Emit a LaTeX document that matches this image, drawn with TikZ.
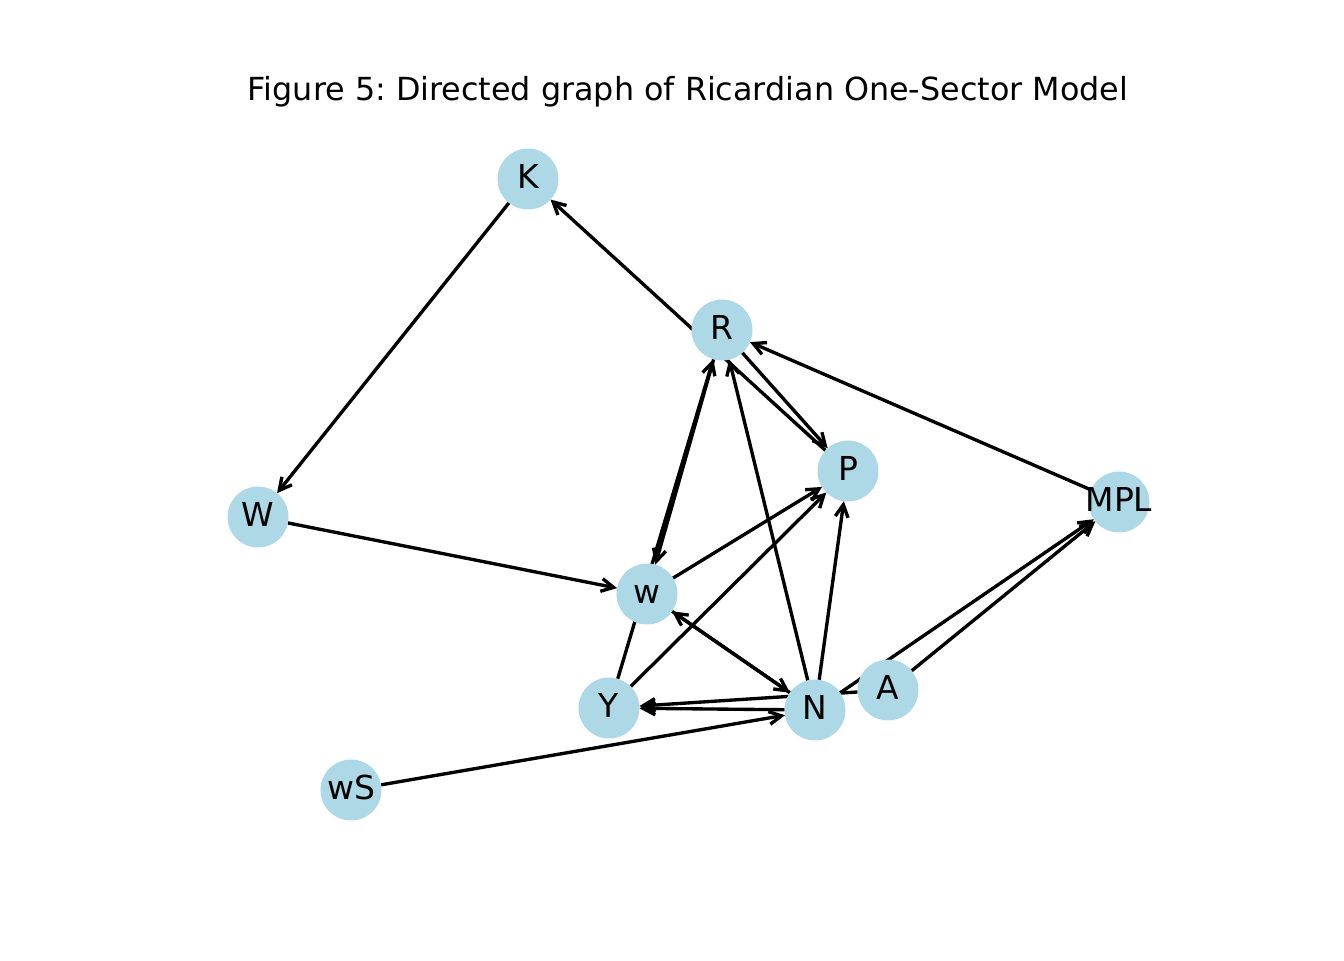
\documentclass[tikz,border=0pt]{standalone}
\usepackage{fontspec}
\setmainfont{DejaVu Sans}
\usetikzlibrary{arrows.meta,backgrounds}
\definecolor{nodeblue}{RGB}{173,216,230}
\frenchspacing
\tikzset{
  vtx/.style={circle,fill=nodeblue,draw=none,minimum size=20.9pt,inner sep=0pt,outer sep=0pt},
  lab/.style={font=\fontsize{11.3}{12}\selectfont,text height=0.76em,text depth={0.236em-1.5pt},inner sep=0pt},
  edge/.style={line width=1.15pt,black,-{Straight Barb[length=4.2pt,width=4.4pt,line width=1.15pt]}},
}
\begin{document}
\begin{tikzpicture}[x=0.342857pt,y=-0.342857pt]
\useasboundingbox (0,0) rectangle (1344,960);
\node[anchor=base,font=\fontsize{10.9}{12}\selectfont,inner sep=0pt] (title) at (688,100) {Figure 5: Directed graph of Ricardian One-Sector Model};
\node[vtx,label={[lab]center:K}] (K) at (528,179) {};
\node[vtx,label={[lab]center:R}] (R) at (722,330) {};
\node[vtx,label={[lab]center:P}] (P) at (848,471) {};
\node[vtx,label={[lab]center:MPL}] (MPL) at (1119,502) {};
\node[vtx,label={[lab]center:W}] (W) at (258,517) {};
\node[vtx,label={[lab]center:w}] (w) at (647,594) {};
\node[vtx,label={[lab]center:Y}] (Y) at (609,708) {};
\node[vtx,label={[lab]center:N}] (N) at (815,710) {};
\node[vtx,label={[lab]center:A}] (A) at (888,690) {};
\node[vtx,label={[lab]center:wS}] (wS) at (351,790) {};
\begin{scope}[on background layer]
\draw[edge] (P) -- (K);
\draw[edge] (R) -- (P);
\draw[edge] (MPL) -- (R);
\draw[edge] (K) -- (W);
\draw[edge] (W) -- (w);
\draw[edge] (R) -- (w);
\draw[edge] (Y) -- (R);
\draw[edge] (N) -- (R);
\draw[edge] (w) -- (P);
\draw[edge] (Y) -- (P);
\draw[edge] (N) -- (P);
\draw[edge] (w) -- (N);
\draw[edge] (N) -- (w);
\draw[edge] (N) -- (Y);
\draw[edge] (A) -- (Y);
\draw[edge] (wS) -- (N);
\draw[edge] (A) -- (MPL);
\draw[edge] (N) -- (MPL);
\end{scope}
\end{tikzpicture}
\end{document}
